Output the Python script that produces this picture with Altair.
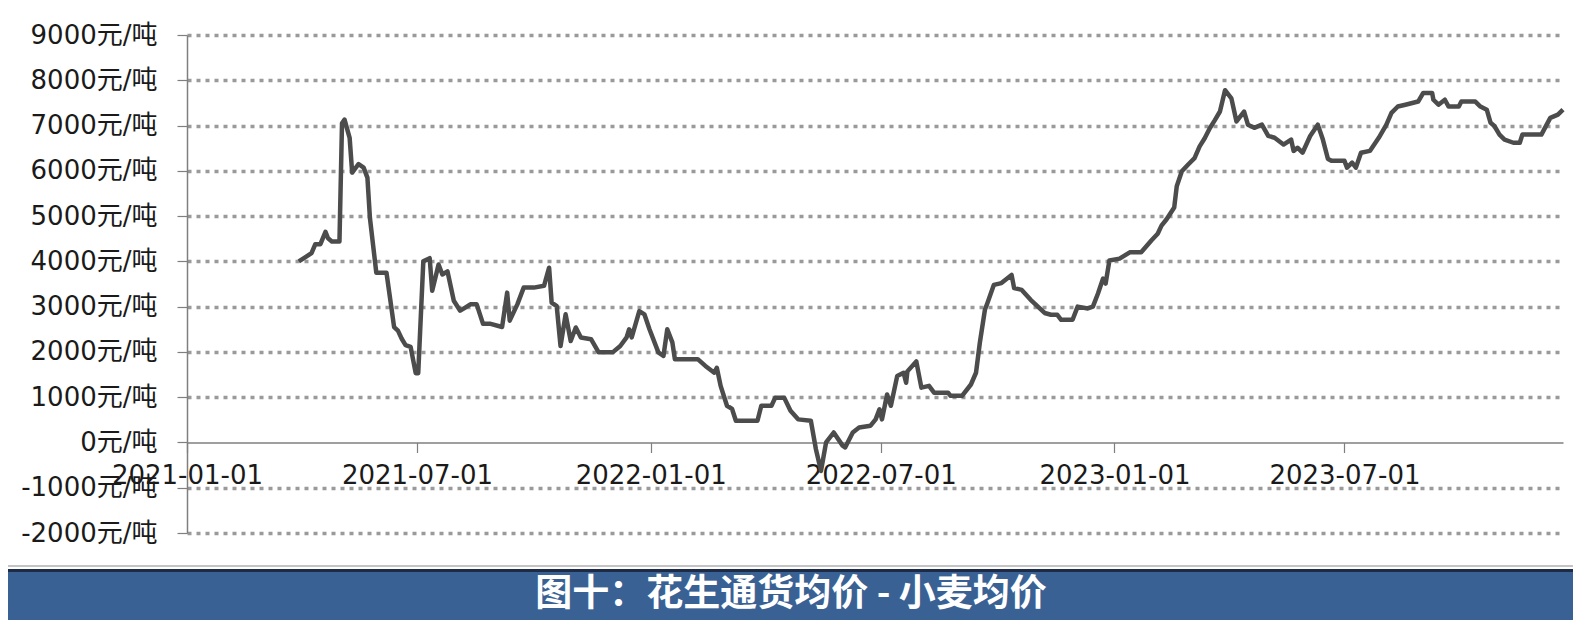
import altair as alt
import pandas as pd

# x positions, as days after 2021-01-01
day_offsets = [
    88, 92, 98, 101, 105, 109, 111, 114, 120, 122, 124, 128, 130, 135, 139, 142, 144, 149, 157,
    163, 166, 169, 172, 176, 180, 182, 186, 191, 193, 198, 201, 205, 210, 215, 219, 223, 228,
    233, 239, 248, 252, 254, 260, 265, 273,
    281, 285, 287, 291, 294, 298, 302, 306, 310, 318, 324, 335, 341, 346, 348, 350, 356, 360,
    364, 371, 375, 378, 382, 384, 402, 408, 415, 417, 420, 425, 429, 432, 449, 452, 460, 463,
    470, 475, 481,
    491, 495, 499, 503, 509, 516, 518, 524, 529, 538, 542, 545, 547, 551, 554, 559, 564, 566,
    567, 574, 578, 584, 588, 599, 601, 610, 617, 621, 624, 628, 630, 635, 641, 649, 651, 657,
    664, 675, 680,
    685, 688, 697, 701, 709, 713, 717, 721, 723, 726, 734, 742, 751, 759, 764, 767, 771, 777,
    779, 783, 788, 793, 797, 801, 805, 809, 813, 817, 822,
    826, 832, 835, 840, 846, 851, 856, 863, 869, 871, 874, 878, 884, 890, 894, 898, 901, 911,
    913, 917, 920, 924, 931, 938, 944, 948, 953, 959, 969, 973, 980, 981, 985, 990, 993, 1001,
    1003, 1014, 1018, 1023, 1026, 1029, 1033, 1037, 1044, 1049, 1051, 1066, 1073, 1079, 1083,
]
spread_values = [
    4000, 4070, 4180, 4380, 4380, 4650, 4510, 4440, 4440, 7050, 7130, 6730, 5960, 6150, 6070, 5850, 4950, 3750, 3750,
    2550, 2470, 2290, 2150, 2110, 1530, 1530, 4000, 4070, 3350, 3930, 3710, 3780, 3130, 2910, 2980, 3050, 3050,
    2620, 2620, 2550, 3310, 2690, 3050, 3420, 3420,
    3460, 3860, 3090, 3010, 2130, 2830, 2240, 2540, 2320, 2280, 1990, 1990, 2130, 2320, 2500, 2320, 2900, 2830,
    2500, 1990, 1910, 2500, 2210, 1840, 1840, 1690, 1540, 1650, 1250, 810, 740, 480, 480, 810, 810, 990,
    990, 700, 510,
    480, -150, -630, 0, 220, -70, -110, 220, 330, 370, 510, 730, 510, 1060, 810, 1470, 1540, 1320,
    1570, 1790, 1210, 1250, 1100, 1100, 1030, 1030, 1280, 1540, 2200, 2930, 3080, 3480, 3520, 3700, 3410, 3370,
    3150, 2860, 2820,
    2820, 2710, 2710, 3000, 2960, 3000, 3290, 3620, 3510, 4020, 4060, 4200, 4200, 4460, 4610, 4790, 4930, 5190,
    5660, 5990, 6140, 6280, 6540, 6720, 6940, 7120, 7310, 7780, 7600,
    7090, 7310, 7020, 6950, 7020, 6770, 6730, 6580, 6690, 6440, 6510, 6400, 6770, 7020, 6690, 6260, 6220, 6220,
    6070, 6180, 6070, 6400, 6440, 6730, 7020, 7280, 7420, 7460, 7530, 7720, 7720, 7570, 7460, 7570, 7420, 7420,
    7530, 7530, 7420, 7350, 7060, 6990, 6800, 6690, 6620, 6620, 6800, 6800, 7170, 7240, 7350,
]
y_ticks = list(range(-2000, 9001, 1000))
x_tick_dates = ["2021-01-01", "2021-07-01", "2022-01-01", "2022-07-01", "2023-01-01", "2023-07-01"]
x_domain = ["2021-01-01", "2023-12-20"]
title_text = "图十：花生通货均价 - 小麦均价"

W, H = 1376, 498
PAD_L, PAD_T, PAD_R, PAD_B = 179, 27, 10, 87
FONT = "DejaVu Sans, Noto Sans CJK SC, sans-serif"


def to_dt(s):
    return alt.DateTime(year=int(s[:4]), month=int(s[5:7]), date=int(s[8:]), utc=True)


dates = (pd.Timestamp("2021-01-01") + pd.to_timedelta(day_offsets, unit="D")).strftime("%Y-%m-%d")
df = pd.DataFrame({"date": list(dates), "value": spread_values})

line = alt.Chart(df).mark_line(color="#4c4c4c", strokeWidth=4.5, strokeJoin="round").encode(
    x=alt.X(
        "date:T",
        scale=alt.Scale(type="utc", domain=[to_dt(d) for d in x_domain], nice=False),
        axis=alt.Axis(
            title=None,
            values=[to_dt(d) for d in x_tick_dates],
            labelExpr="utcFormat(datum.value, '%Y-%m-%d')",
            offset=-90.5,
            grid=False,
            domainColor="#7f7f7f",
            domainWidth=1.5,
            tickColor="#7f7f7f",
            tickSize=10,
            tickWidth=1.2,
            labelPadding=10,
            labelFontSize=26,
            labelColor="#1a1a1a",
            labelFont=FONT,
            labelOverlap=False,
            labelFlush=False,
        ),
    ),
    y=alt.Y(
        "value:Q",
        scale=alt.Scale(domain=[-2000, 9000], nice=False, zero=False),
        axis=alt.Axis(
            title=None,
            values=y_ticks,
            labelExpr="datum.value + '元/吨'",
            grid=True,
            gridDash=[4, 5],
            gridWidth=3.5,
            gridColor="#9a9a9a",
            gridOpacity={"condition": {"test": "datum.value === 0", "value": 0}, "value": 1},
            domainColor="#7f7f7f",
            domainWidth=1.5,
            tickColor="#7f7f7f",
            tickSize=10,
            tickWidth=1.2,
            labelPadding=20,
            labelFontSize=26,
            labelColor="#1a1a1a",
            labelFont=FONT,
            labelOverlap=False,
        ),
    ),
)

deco = alt.Chart(pd.DataFrame({"t": [title_text]}))
grey_rule = deco.mark_rect(color="#c4c4c4").encode(
    x=alt.value(-PAD_L), x2=alt.value(W + PAD_R), y=alt.value(530), y2=alt.value(532)
)
navy_rule = deco.mark_rect(color="#1d2b47").encode(
    x=alt.value(-PAD_L), x2=alt.value(W + PAD_R), y=alt.value(534), y2=alt.value(537)
)
banner = deco.mark_rect(color="#3a6194").encode(
    x=alt.value(-PAD_L), x2=alt.value(W + PAD_R), y=alt.value(537), y2=alt.value(H + PAD_B)
)
title = deco.mark_text(
    color="white", fontSize=37, fontWeight="bold", font="Noto Sans CJK SC", align="center", baseline="middle"
).encode(x=alt.value(604), y=alt.value(560), text="t:N")

chart = alt.layer(line, grey_rule, navy_rule, banner, title).properties(
    width=W,
    height=H,
    autosize=alt.AutoSizeParams(type="none"),
    padding={"left": PAD_L, "top": PAD_T, "right": PAD_R, "bottom": PAD_B},
    background="white",
).configure_view(stroke=None)

chart.save("out.html", embed_options={"renderer": "svg", "actions": False})
